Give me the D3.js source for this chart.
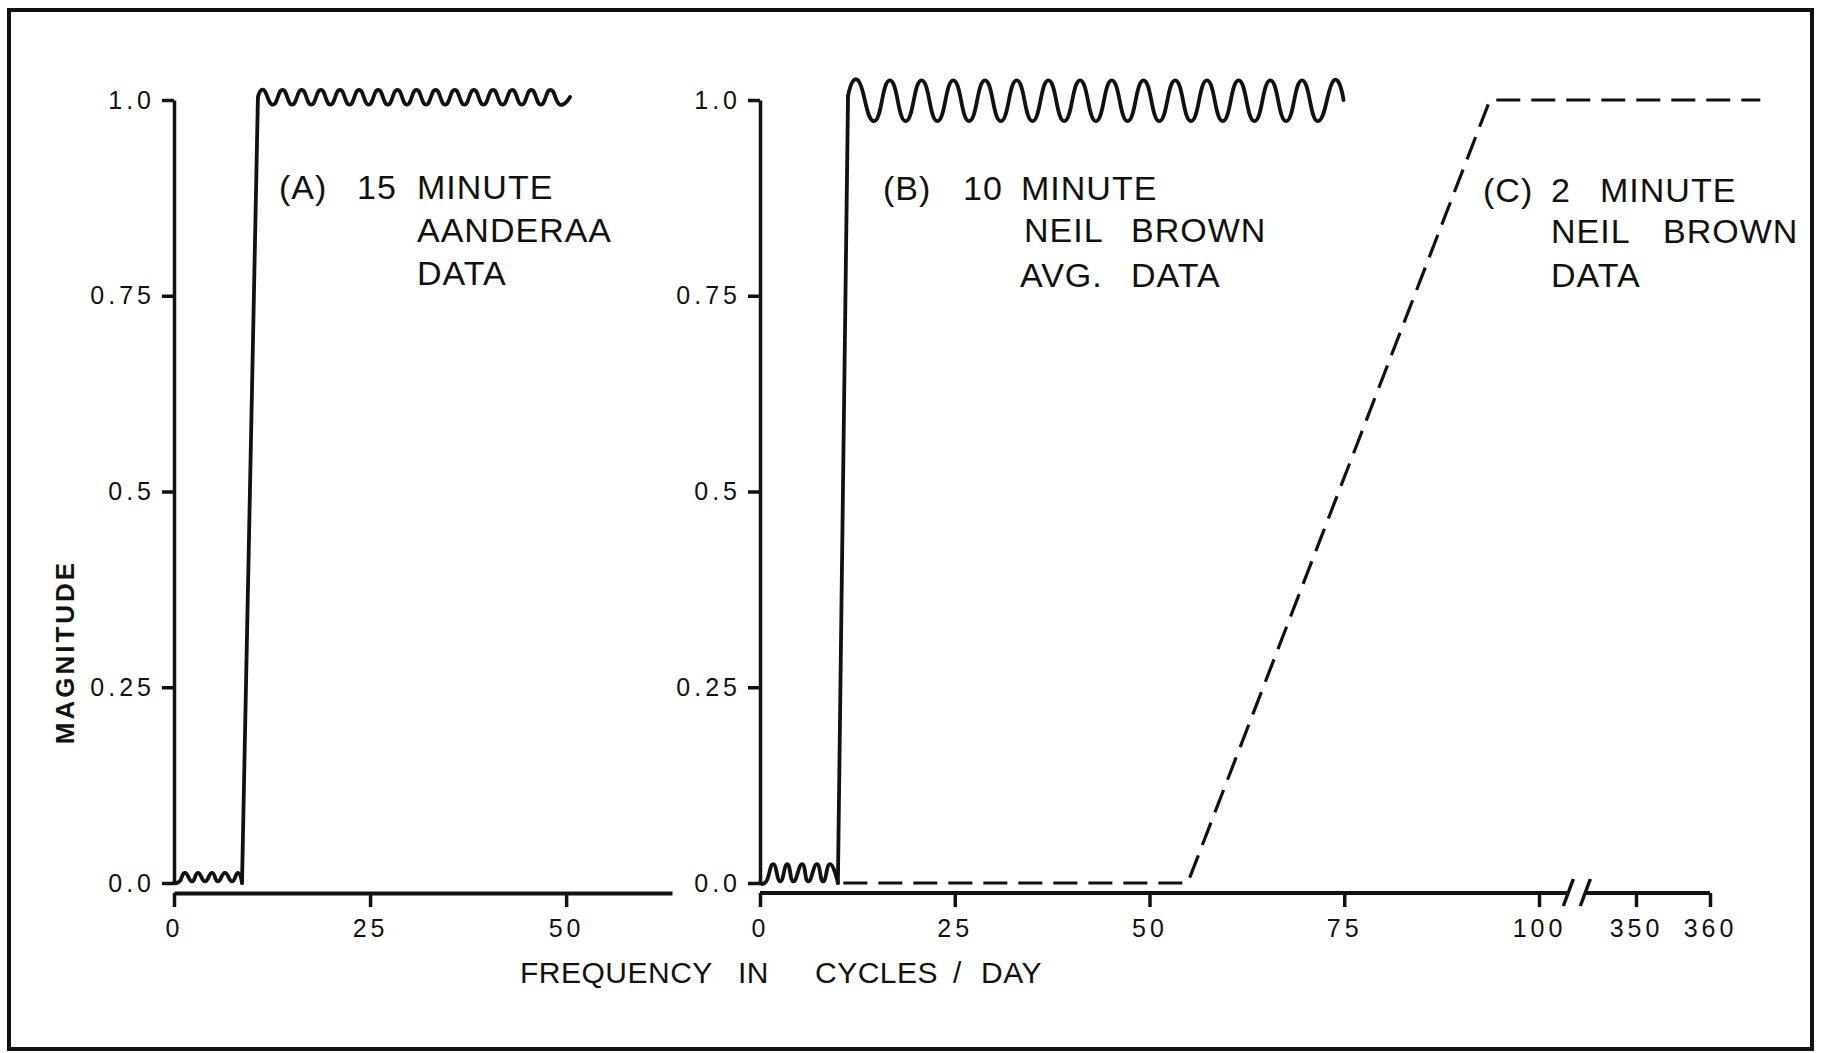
<!DOCTYPE html>
<html>
<head>
<meta charset="utf-8">
<script src="https://cdn.jsdelivr.net/npm/d3@7"></script>
<style>
  body { margin: 0; background: #fff; }
  text { font-family: "Liberation Sans", Arial, sans-serif; fill: #111; }
</style>
</head>
<body>
<svg id="chart" width="1822" height="1053"></svg>
<script>
// tick values and labels
const yTicks = [0, 0.25, 0.5, 0.75, 1.0];
const yTickLabels = ["0.0", "0.25", "0.5", "0.75", "1.0"];
const xTicksA = [0, 25, 50];
const xTicksB = [0, 25, 50, 75, 100, 350, 360];

// (A) 15 minute Aanderaa - ripple at the bottom, step, ripple at the top
const lowA = [[0, 0], [0.7, 0.002], [1.4, 0.013], [2.3, 0.002], [3.06, 0.013], [3.95, 0.002],
  [4.85, 0.013], [5.6, 0.002], [6.5, 0.013], [7.4, 0.002], [8.16, 0.013], [8.67, 0.0]];
const highA = [[10.7, 1.003], [11.4, 1.013], [12.62, 0.994], [13.84, 1.013], [15.06, 0.994],
  [16.28, 1.013], [17.5, 0.994], [18.72, 1.013], [19.94, 0.994], [21.16, 1.013], [22.38, 0.994],
  [23.6, 1.013], [24.82, 0.994], [26.04, 1.013], [27.26, 0.994], [28.48, 1.013], [29.7, 0.994],
  [30.92, 1.013], [32.14, 0.994], [33.36, 1.013], [34.58, 0.994], [35.8, 1.013], [37.02, 0.994],
  [38.24, 1.013], [39.46, 0.994], [40.68, 1.013], [41.9, 0.994], [43.12, 1.013], [44.34, 0.994],
  [45.56, 1.013], [46.78, 0.994], [48.0, 1.013], [49.22, 0.994], [50.5, 1.004]];

// (B) 10 minute Neil Brown avg.
const lowB = [[0, 0], [0.8, 0.002], [1.7, 0.024], [2.6, 0.002], [3.5, 0.024], [4.3, 0.002],
  [5.4, 0.024], [6.2, 0.002], [7.3, 0.024], [8.1, 0.002], [9.0, 0.024], [10.0, 0.0]];
const highB = [[11.3, 1.005], [12.6, 1.025], [14.63, 0.973], [16.67, 1.025], [18.7, 0.973],
  [20.74, 1.025], [22.77, 0.973], [24.81, 1.025], [26.84, 0.973], [28.88, 1.025], [30.91, 0.973],
  [32.95, 1.025], [34.98, 0.973], [37.02, 1.025], [39.05, 0.973], [41.09, 1.025], [43.12, 0.973],
  [45.16, 1.025], [47.19, 0.973], [49.23, 1.025], [51.26, 0.973], [53.3, 1.025], [55.33, 0.973],
  [57.37, 1.025], [59.4, 0.973], [61.44, 1.025], [63.47, 0.973], [65.51, 1.025], [67.54, 0.973],
  [69.58, 1.025], [71.61, 0.973], [73.65, 1.025], [74.9, 1.0]];

// (C) 2 minute Neil Brown - dashed ramp
const rampC = [[10.7, 0], [54.9, 0], [93.7, 1.0], [366.8, 1.0]];

const svg = d3.select("#chart");

// frame
svg.append("rect")
  .attr("x", 9).attr("y", 10).attr("width", 1803).attr("height", 1039)
  .attr("fill", "none").attr("stroke", "#111").attr("stroke-width", 4);

const y = d3.scaleLinear().domain([0, 1]).range([883, 100]);
const xA = d3.scaleLinear().domain([0, 63.5]).range([174, 672]);
const xB = d3.scaleLinear().domain([0, 100, 350, 360]).range([760, 1539, 1636, 1710]);
const xAxisY = 893;

function styleAxis(g, fs) {
  g.attr("font-family", null).attr("font-size", null);
  g.selectAll(".tick line").attr("stroke", "#111").attr("stroke-width", 3.5);
  g.selectAll(".tick text").style("font-size", fs + "px").style("letter-spacing", "4px").attr("fill", "#111");
  g.select(".domain").attr("stroke", "#111").attr("stroke-width", 4);
}

// y axes
[xA(0), xB(0)].forEach(x0 => {
  const g = svg.append("g")
    .attr("transform", `translate(${x0},0)`)
    .call(d3.axisLeft(y).tickValues(yTicks)
      .tickFormat((d, i) => yTickLabels[i])
      .tickSize(12).tickSizeOuter(0).tickPadding(7));
  styleAxis(g, 25);
  g.select(".domain").attr("stroke-width", 3.5);
});

// x axis A
const gxA = svg.append("g")
  .attr("transform", `translate(0,${xAxisY})`)
  .call(d3.axisBottom(xA).tickValues(xTicksA).tickSize(14).tickSizeOuter(0).tickPadding(12));
styleAxis(gxA, 25);

// x axis B with a break between 100 and 350
const gxB = svg.append("g")
  .attr("transform", `translate(0,${xAxisY})`)
  .call(d3.axisBottom(xB).tickValues(xTicksB).tickFormat(d3.format("d"))
    .tickSize(14).tickSizeOuter(0).tickPadding(12));
styleAxis(gxB, 25);
gxB.select(".domain").remove();

const brk = xB(100) + (xB(350) - xB(100)) * 0.39;
const half = 8.5;
[[xB(0), brk - half], [brk + half, xB(360)]].forEach(s => {
  svg.append("line")
    .attr("x1", s[0]).attr("x2", s[1]).attr("y1", xAxisY).attr("y2", xAxisY)
    .attr("stroke", "#111").attr("stroke-width", 4);
});
[brk - half, brk + half].forEach(c => {
  svg.append("line")
    .attr("x1", c + 5).attr("y1", xAxisY - 14).attr("x2", c - 5).attr("y2", xAxisY + 13)
    .attr("stroke", "#111").attr("stroke-width", 3.5);
});

// curves - rounder crests than a plain spline, like the pen-drawn original
const wave = x => d3.line().x(d => x(d[0])).y(d => y(d[1])).curve(d3.curveCardinal.tension(-0.5));
const straight = x => d3.line().x(d => x(d[0])).y(d => y(d[1]));

function drawResponse(x, low, high) {
  svg.append("path").attr("class", "resp").attr("d", wave(x)(low));
  svg.append("path").attr("class", "resp").attr("d", straight(x)([low[low.length - 1], high[0]]));
  svg.append("path").attr("class", "resp").attr("d", wave(x)(high));
}
drawResponse(xA, lowA, highA);
drawResponse(xB, lowB, highB);
svg.selectAll("path.resp")
  .attr("fill", "none").attr("stroke", "#111").attr("stroke-width", 3.8)
  .attr("stroke-linejoin", "round").attr("stroke-linecap", "round");

svg.append("path")
  .attr("d", straight(xB)(rampC))
  .attr("fill", "none").attr("stroke", "#111").attr("stroke-width", 3.2)
  .attr("stroke-dasharray", "24,11");

// panel notes
const notes = [
  ["(A)", 279, 199], ["15", 357, 199], ["MINUTE", 417, 199],
  ["AANDERAA", 417, 242], ["DATA", 417, 285],
  ["(B)", 883, 200], ["10", 963, 200], ["MINUTE", 1021, 200],
  ["NEIL", 1024, 242], ["BROWN", 1131, 242],
  ["AVG.", 1020, 287], ["DATA", 1131, 287],
  ["(C)", 1483, 202], ["2", 1551, 202], ["MINUTE", 1600, 202],
  ["NEIL", 1551, 243], ["BROWN", 1663, 243], ["DATA", 1551, 287]
];
svg.selectAll("text.note")
  .data(notes)
  .enter()
  .append("text")
  .attr("class", "note")
  .attr("x", d => d[1])
  .attr("y", d => d[2])
  .style("font-size", "34px")
  .style("letter-spacing", "1px")
  .text(d => d[0]);

// axis titles
svg.append("text")
  .attr("transform", "translate(74,652) rotate(-90)")
  .attr("text-anchor", "middle")
  .style("font-size", "26px").style("font-weight", "bold").style("letter-spacing", "3px")
  .text("MAGNITUDE");

[["FREQUENCY", 520], ["IN", 738], ["CYCLES", 815], ["/", 953], ["DAY", 981]].forEach(t => {
  svg.append("text")
    .attr("x", t[1]).attr("y", 983)
    .style("font-size", "30px").style("letter-spacing", "0.5px")
    .text(t[0]);
});
</script>
</body>
</html>
